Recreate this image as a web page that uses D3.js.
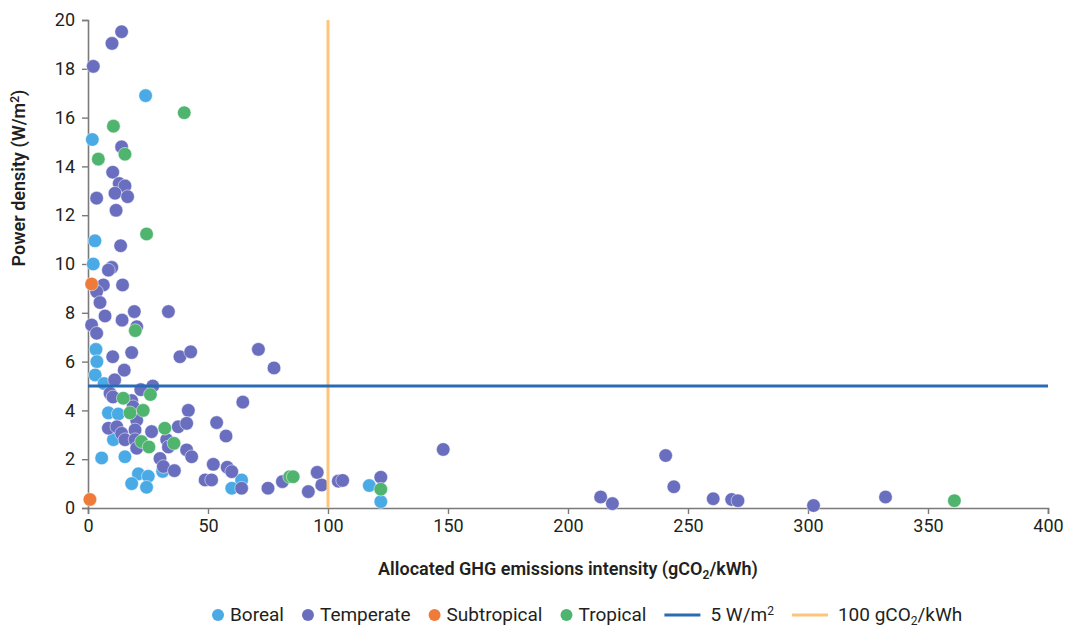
<!DOCTYPE html>
<html>
<head>
<meta charset="utf-8">
<script src="https://cdn.jsdelivr.net/npm/d3@7"></script>
<style>
  body { margin: 0; background: #fff; }
  text { font-family: Roboto, "Noto Sans", sans-serif; fill: #231f20; }
</style>
</head>
<body>
<script>
// values: [x = gCO2/kWh, y = W/m2]
const borealX = [24, 1.8, 2.9, 2.2, 3.3, 3.7, 3.0, 6.7, 8.5, 12.6, 10.6, 5.7, 15.4, 21, 25.1, 18.2, 24.4, 31.1, 64, 59.9, 117.2, 122];
const borealY = [16.9, 15.1, 10.95, 10.0, 6.5, 6.0, 5.45, 5.1, 3.9, 3.85, 2.8, 2.05, 2.1, 1.4, 1.3, 1.0, 0.85, 1.5, 1.15, 0.81, 0.92, 0.26];

const temperateX = [14, 10, 2.2, 14, 10.3, 13, 15.4, 11.25, 16.5, 3.6, 11.7, 13.6, 9.9, 8.5, 6.4, 14.4, 3.6, 5, 19.3, 33.5, 7.1, 14.2, 1.5, 3.6, 20.3,
  10.3, 18.2, 38.3, 42.8, 71, 77.5, 15.1, 11.1, 27, 22, 9.2, 10.4, 18.2, 18.8, 41.8, 64.5, 20.3, 53.6, 8.5, 12, 14, 15.4, 19.6, 19.6, 20.3,
  26.5, 37.6, 41.1, 32.8, 33.5, 41.1, 43.2, 30, 31.4, 36, 57.5, 52.2, 58, 59.9, 48.8, 51.5, 64, 75, 81, 95.5, 97.4, 91.8, 104.3, 106.1, 122,
  148, 213.6, 218.5, 240.7, 244.1, 260.5, 268.2, 270.8, 302.3, 332.3];
const temperateY = [19.52, 19.04, 18.1, 14.8, 13.76, 13.3, 13.2, 12.9, 12.76, 12.7, 12.2, 10.75, 9.86, 9.75, 9.14, 9.14, 8.87, 8.42, 8.05, 8.05, 7.87, 7.7, 7.5, 7.16, 7.43,
  6.2, 6.37, 6.2, 6.4, 6.5, 5.74, 5.65, 5.25, 5.0, 4.85, 4.7, 4.55, 4.4, 4.15, 4.0, 4.34, 3.6, 3.5, 3.27, 3.33, 3.06, 2.8, 3.2, 2.8, 2.45,
  3.13, 3.33, 3.47, 2.8, 2.5, 2.38, 2.1, 2.03, 1.7, 1.53, 2.95, 1.79, 1.67, 1.49, 1.15, 1.15, 0.81, 0.81, 1.08, 1.46, 0.94, 0.67, 1.1, 1.13, 1.26,
  2.4, 0.45, 0.18, 2.15, 0.87, 0.38, 0.35, 0.3, 0.1, 0.45];

const subtropicalX = [1.5, 0.8];
const subtropicalY = [9.18, 0.35];

const tropicalX = [40.1, 10.6, 15.4, 4.3, 24.4, 19.7, 14.7, 26, 17.5, 23, 32, 22.3, 25.4, 35.8, 84, 85.5, 122, 361];
const tropicalY = [16.2, 15.65, 14.5, 14.3, 11.23, 7.27, 4.5, 4.65, 3.9, 4.0, 3.27, 2.72, 2.5, 2.65, 1.28, 1.28, 0.77, 0.3];

const xTicks = [0, 50, 100, 150, 200, 250, 300, 350, 400];
const yTicks = [0, 2, 4, 6, 8, 10, 12, 14, 16, 18, 20];
const densityLimit = 5;     // W/m2
const emissionLimit = 100;  // gCO2/kWh

const series = [
  { name: "Boreal", xs: borealX, ys: borealY, color: "#4aaae6" },
  { name: "Temperate", xs: temperateX, ys: temperateY, color: "#6a6ebf" },
  { name: "Subtropical", xs: subtropicalX, ys: subtropicalY, color: "#ee7b3a" },
  { name: "Tropical", xs: tropicalX, ys: tropicalY, color: "#4fb56e" },
];

const baseWidth = 1069, baseHeight = 627;
const margin = { top: 20, right: 21, bottom: 119, left: 88 };
const width = baseWidth - margin.left - margin.right;
const height = baseHeight - margin.top - margin.bottom;

const x = d3.scaleLinear().domain([0, 400]).range([0, width]);
const y = d3.scaleLinear().domain([0, 20]).range([height, 0]);

const svg = d3.select("body").append("svg")
  .attr("width", baseWidth)
  .attr("height", baseHeight);

const chart = svg.append("g")
  .attr("transform", "translate(" + margin.left + "," + margin.top + ")");

// axes
const xAxis = chart.append("g")
  .attr("transform", "translate(0," + height + ")")
  .call(d3.axisBottom(x).tickValues(xTicks).tickSizeOuter(0).tickSize(6).tickPadding(5));
const yAxis = chart.append("g")
  .call(d3.axisLeft(y).tickValues(yTicks).tickSizeOuter(0).tickSize(6).tickPadding(7));

[xAxis, yAxis].forEach((a) => {
  a.select(".domain").attr("stroke", "#7a7a7a").attr("stroke-width", 1.6);
  a.selectAll(".tick line").attr("stroke", "#7a7a7a").attr("stroke-width", 1.4);
  a.selectAll(".tick text").style("font-size", "18px").attr("fill", "#231f20");
});

// dots
series.forEach((s) => {
  chart.append("g")
    .selectAll("circle")
    .data(s.xs.map((v, i) => [v, s.ys[i]]))
    .enter()
    .append("circle")
    .attr("cx", (d) => x(d[0]))
    .attr("cy", (d) => y(d[1]))
    .attr("r", 6.8)
    .attr("fill", s.color)
    .attr("stroke", "#fff")
    .attr("stroke-width", 0.5);
});

// reference lines
chart.append("line")
  .attr("x1", x(emissionLimit)).attr("x2", x(emissionLimit))
  .attr("y1", y(20)).attr("y2", y(0))
  .attr("stroke", "#fdc57a").attr("stroke-width", 3);
chart.append("line")
  .attr("x1", x(0)).attr("x2", x(400))
  .attr("y1", y(densityLimit)).attr("y2", y(densityLimit))
  .attr("stroke", "#2a6cb3").attr("stroke-width", 3);

// axis titles
const xt = svg.append("text")
  .attr("x", margin.left + width / 2)
  .attr("y", 575)
  .attr("text-anchor", "middle")
  .style("font-size", "18px")
  .style("font-weight", "600");
xt.append("tspan").text("Allocated GHG emissions intensity (gCO");
xt.append("tspan").attr("dy", 4).style("font-size", "12px").text("2");
xt.append("tspan").attr("dy", -4).text("/kWh)");

const yt = svg.append("text")
  .attr("transform", "translate(25,178) rotate(-90)")
  .attr("text-anchor", "middle")
  .style("font-size", "18px")
  .style("font-weight", "600");
yt.append("tspan").text("Power density (W/m");
yt.append("tspan").attr("dy", -6).style("font-size", "12px").text("2");
yt.append("tspan").attr("dy", 6).text(")");

// legend
const legend = svg.append("g").attr("transform", "translate(0,615)");
let lx = 218;
const legendItems = series.map((s) => ({ kind: "dot", color: s.color, parts: [[s.name, 0]] }))
  .concat([
    { kind: "line", color: "#2a6cb3", parts: [["5 W/m", 0], ["2", -6]] },
    { kind: "line", color: "#fdc57a", parts: [["100 gCO", 0], ["2", 4], ["/kWh", 0]] },
  ]);
legendItems.forEach((it) => {
  if (it.kind === "dot") {
    legend.append("circle").attr("cx", lx).attr("cy", 0).attr("r", 6).attr("fill", it.color);
    lx += 12;
  } else {
    legend.append("line").attr("x1", lx - 6).attr("x2", lx + 30).attr("y1", 0).attr("y2", 0)
      .attr("stroke", it.color).attr("stroke-width", 3);
    lx += 40;
  }
  const t = legend.append("text").attr("x", lx).attr("y", 6).style("font-size", "19px");
  let prev = 0;
  it.parts.forEach((p) => {
    t.append("tspan").attr("dy", p[1] - prev)
      .style("font-size", p[1] !== 0 ? "12px" : "19px").text(p[0]);
    prev = p[1];
  });
  lx += t.node().getComputedTextLength() + 24;
});
</script>
</body>
</html>
